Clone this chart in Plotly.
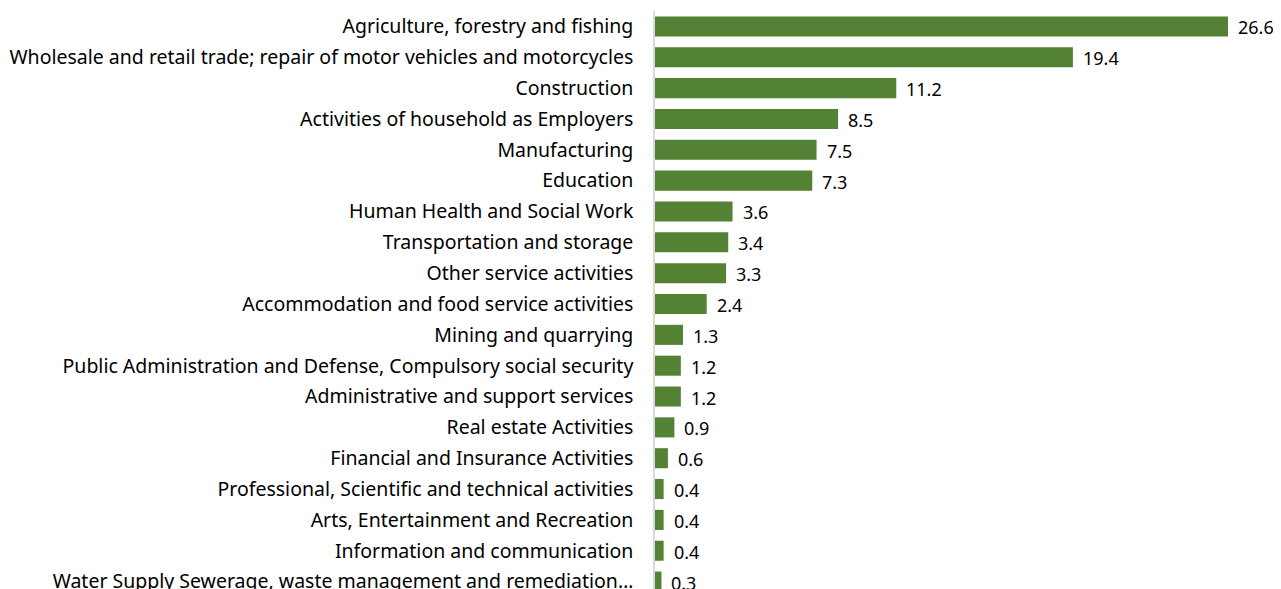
import plotly.graph_objects as go

categories = [
    "Agriculture, forestry and fishing",
    "Wholesale and retail trade; repair of motor vehicles and motorcycles",
    "Construction",
    "Activities of household as Employers",
    "Manufacturing",
    "Education",
    "Human Health and Social Work",
    "Transportation and storage",
    "Other service activities",
    "Accommodation and food service activities",
    "Mining and quarrying",
    "Public Administration and Defense, Compulsory social security",
    "Administrative and support services",
    "Real estate Activities",
    "Financial and Insurance Activities",
    "Professional, Scientific and technical activities",
    "Arts, Entertainment and Recreation",
    "Information and communication",
    "Water Supply Sewerage, waste management and remediation\u2026",
]
values = [26.6, 19.4, 11.2, 8.5, 7.5, 7.3, 3.6, 3.4, 3.3, 2.4,
          1.3, 1.2, 1.2, 0.9, 0.6, 0.4, 0.4, 0.4, 0.3]

font_family = "'Noto Sans', 'Open Sans', sans-serif"

fig = go.Figure()
fig.add_trace(go.Bar(
    x=values,
    y=categories,
    orientation="h",
    marker=dict(color="#548235", line=dict(width=0)),
    width=0.65,
    hoverinfo="x+y",
))

# value labels right of the bars
for cat, val in zip(categories, values):
    fig.add_annotation(
        x=val, y=cat, text=f"{val:.1f}",
        xanchor="left", yanchor="middle", xshift=8, yshift=-1,
        showarrow=False,
        font=dict(family=font_family, size=18, color="#000000"),
    )

fig.update_layout(
    width=1273,
    height=589,
    margin=dict(l=647, r=0, t=3, b=0),
    plot_bgcolor="white",
    paper_bgcolor="white",
    showlegend=False,
    font=dict(family=font_family, size=19.5, color="#000000"),
    xaxis=dict(range=[0, 29.06], visible=False, fixedrange=True),
    yaxis=dict(
        autorange=False,
        range=[18.5, -0.5],
        showline=True,
        linecolor="#d9d9d9",
        linewidth=1.5,
        ticks="",
        ticklabelstandoff=16,
        automargin=False,
        showgrid=False,
        fixedrange=True,
    ),
)

fig.write_html("out.html")
